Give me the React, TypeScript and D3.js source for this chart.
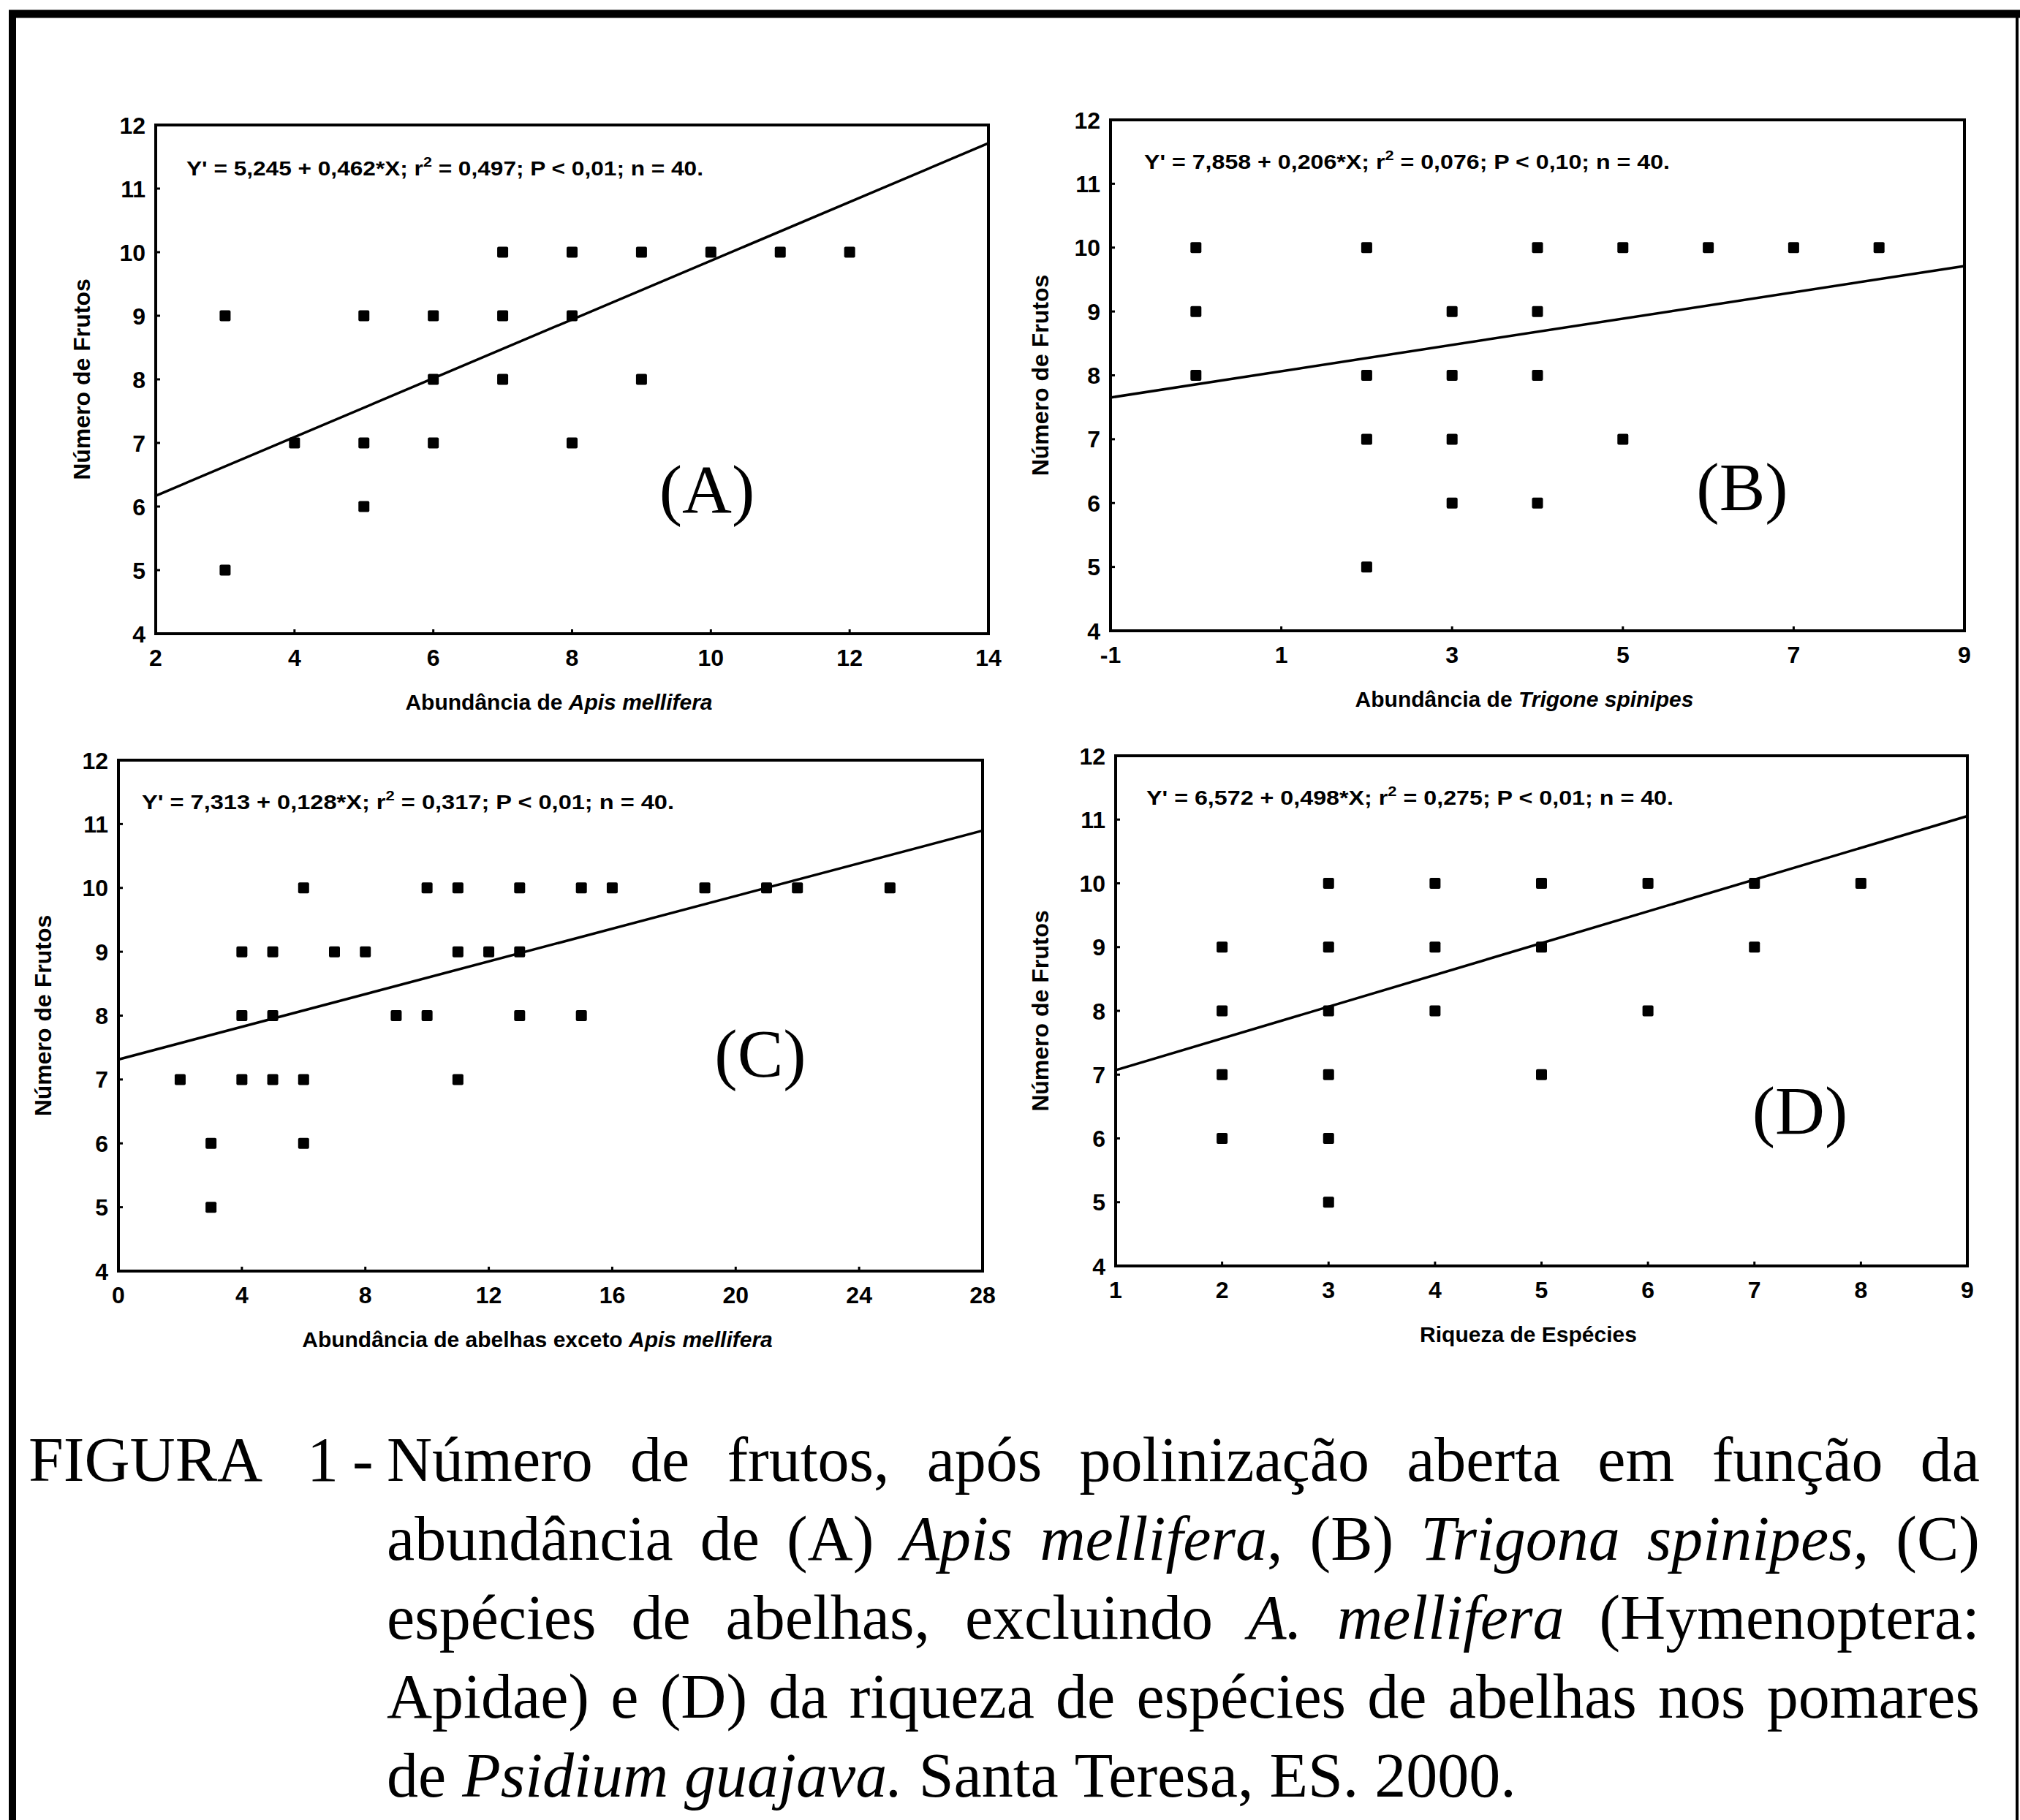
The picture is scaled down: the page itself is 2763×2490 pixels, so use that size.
import React, { useEffect, useRef } from 'react'
import * as d3 from 'd3'

const W = 2763
const H = 2490

const yTicks = [4, 5, 6, 7, 8, 9, 10, 11, 12]
const yDomain = [4, 12]

// (A) abundancia de Apis mellifera
const xA = [3, 3, 4, 5, 5, 5, 6, 6, 6, 7, 7, 7, 8, 8, 8, 9, 9, 10, 11, 12]
const yA = [9, 5, 7, 9, 7, 6, 9, 8, 7, 10, 9, 8, 10, 9, 7, 10, 8, 10, 10, 10]
const xTicksA = [2, 4, 6, 8, 10, 12, 14]
const fitA = [5.245, 0.462]
const statsA = ['0,497', '0,01', '40']

// (B) abundancia de Trigona spinipes
const xB = [0, 0, 0, 2, 2, 2, 2, 3, 3, 3, 3, 4, 4, 4, 4, 5, 5, 6, 7, 8]
const yB = [10, 9, 8, 10, 8, 7, 5, 9, 8, 7, 6, 10, 9, 8, 6, 10, 7, 10, 10, 10]
const xTicksB = [-1, 1, 3, 5, 7, 9]
const fitB = [7.858, 0.206]
const statsB = ['0,076', '0,10', '40']

// (C) abelhas exceto Apis mellifera
const xC = [2, 3, 3, 4, 4, 4, 5, 5, 5, 6, 6, 6, 7, 8, 9, 10, 10, 11, 11, 11, 12, 13, 13, 13, 15, 15, 16, 19, 21, 22, 25]
const yC = [7, 6, 5, 9, 8, 7, 9, 8, 7, 10, 7, 6, 9, 9, 8, 10, 8, 10, 9, 7, 9, 10, 9, 8, 10, 8, 10, 10, 10, 10, 10]
const xTicksC = [0, 4, 8, 12, 16, 20, 24, 28]
const fitC = [7.313, 0.128]
const statsC = ['0,317', '0,01', '40']

// (D) riqueza de especies
const xD = [2, 2, 2, 2, 3, 3, 3, 3, 3, 3, 4, 4, 4, 5, 5, 5, 6, 6, 7, 7, 8]
const yD = [9, 8, 7, 6, 10, 9, 8, 7, 6, 5, 10, 9, 8, 10, 9, 7, 10, 8, 10, 9, 10]
const xTicksD = [1, 2, 3, 4, 5, 6, 7, 8, 9]
const fitD = [6.572, 0.498]
const statsD = ['0,275', '0,01', '40']

const captionLines = [
  'Número de frutos, após polinização aberta em função da',
  'abundância de (A) _Apis mellifera_, (B) _Trigona spinipes_, (C)',
  'espécies de abelhas, excluindo _A. mellifera_ (Hymenoptera:',
  'Apidae) e (D) da riqueza de espécies de abelhas nos pomares',
  'de _Psidium guajava._ Santa Teresa, ES. 2000.',
]

const sans = '"Liberation Sans", Arial, sans-serif'
const serif = '"Liberation Serif", "Times New Roman", serif'

const panels = [
  { id: 'A', xs: xA, ys: yA, ticks: xTicksA, fit: fitA, stats: statsA,
    title: ['Abundância de ', 'Apis mellifera'],
    box: { left: 213, right: 1352, top: 171, bottom: 867 },
    eq: [255, 240, 707], label: [967, 701], yTitleX: 123 },
  { id: 'B', xs: xB, ys: yB, ticks: xTicksB, fit: fitB, stats: statsB,
    title: ['Abundância de ', 'Trigone spinipes'],
    box: { left: 1519, right: 2687, top: 164, bottom: 863 },
    eq: [1565, 231, 719], label: [2383, 698], yTitleX: 1434 },
  { id: 'C', xs: xC, ys: yC, ticks: xTicksC, fit: fitC, stats: statsC,
    title: ['Abundância de abelhas exceto ', 'Apis mellifera'],
    box: { left: 162, right: 1344, top: 1040, bottom: 1739 },
    eq: [194, 1107, 728], label: [1040, 1473], yTitleX: 70 },
  { id: 'D', xs: xD, ys: yD, ticks: xTicksD, fit: fitD, stats: statsD,
    title: ['Riqueza de Espécies', ''],
    box: { left: 1526, right: 2691, top: 1034, bottom: 1732 },
    eq: [1568, 1101, 721], label: [2462, 1551], yTitleX: 1434 },
]

const fmt = (v: number) => d3.format('.3f')(v).replace('.', ',')

const Panel = ({ p }: any) => {
  const { left, right, top, bottom } = p.box
  const x = d3.scaleLinear().domain(d3.extent(p.ticks) as [number, number]).range([left, right])
  const y = d3.scaleLinear().domain(yDomain).range([bottom, top])
  const line = d3.line<number>().x(d => x(d)).y(d => y(p.fit[0] + p.fit[1] * d))
  const dom = x.domain()
  const sz = 15
  return (
    <g>
      <rect x={left} y={top} width={right - left} height={bottom - top} fill="none" stroke="#000" strokeWidth={4} />
      {yTicks.map(t => (
        <g key={'y' + t}>
          <line x1={left} x2={left + 6} y1={y(t)} y2={y(t)} stroke="#000" strokeWidth={3} />
          <text x={left - 14} y={y(t)} dy="0.36em" textAnchor="end" fontFamily={sans} fontWeight="bold" fontSize={32}>{t}</text>
        </g>
      ))}
      {p.ticks.map((t: number) => (
        <g key={'x' + t}>
          <line x1={x(t)} x2={x(t)} y1={bottom} y2={bottom - 6} stroke="#000" strokeWidth={3} />
          <text x={x(t)} y={bottom + 44} textAnchor="middle" fontFamily={sans} fontWeight="bold" fontSize={32}>{t}</text>
        </g>
      ))}
      <path d={line(dom) || ''} fill="none" stroke="#000" strokeWidth={3.5} />
      {p.xs.map((d: number, i: number) => (
        <rect key={i} x={x(d) - sz / 2} y={y(p.ys[i]) - sz / 2} width={sz} height={sz} rx={2} fill="#000" />
      ))}
      <text x={p.eq[0]} y={p.eq[1]} textLength={p.eq[2]} lengthAdjust="spacingAndGlyphs"
        fontFamily={sans} fontWeight="bold" fontSize={28}>
        {`Y' = ${fmt(p.fit[0])} + ${fmt(p.fit[1])}*X; r`}
        <tspan dy={-12} fontSize={19}>2</tspan>
        <tspan dy={12}>{` = ${p.stats[0]}; P < ${p.stats[1]}; n = ${p.stats[2]}.`}</tspan>
      </text>
      <text x={p.label[0]} y={p.label[1]} textAnchor="middle" fontFamily={serif} fontSize={94}>({p.id})</text>
      <text x={(left + right) / 2 - 18} y={bottom + 104} textAnchor="middle" fontFamily={sans} fontWeight="bold" fontSize={30}>
        {p.title[0]}<tspan fontStyle="italic">{p.title[1]}</tspan>
      </text>
      <text transform={`translate(${p.yTitleX},${(top + bottom) / 2}) rotate(-90)`} textAnchor="middle"
        fontFamily={sans} fontWeight="bold" fontSize={32}>Número de Frutos</text>
    </g>
  )
}

const parseLine = (s: string) => {
  let it = false
  return s.split(' ').map(w => w.split('_').map((t, k) => {
    if (k > 0) it = !it
    return { t, it }
  }).filter(q => q.t.length > 0))
}

const capX0 = 529
const capX1 = 2708
const capBase = [2026, 2134, 2242, 2350, 2458]

export default function App() {
  const capRef = useRef<SVGGElement>(null)

  useEffect(() => {
    if (!capRef.current) return
    d3.select(capRef.current).selectAll<SVGGElement, unknown>('g.cline').each(function (_, li) {
      const words = d3.select(this).selectAll<SVGTextElement, unknown>('text').nodes()
      const widths = words.map(n => n.getComputedTextLength())
      const total = d3.sum(widths)
      const justify = li < captionLines.length - 1
      const gap = justify ? (capX1 - capX0 - total) / (words.length - 1) : 22
      let cx = capX0
      words.forEach((n, i) => {
        n.setAttribute('x', String(cx))
        cx += widths[i] + gap
      })
    })
  }, [])

  return (
    <svg width={W} height={H} viewBox={`0 0 ${W} ${H}`}
      style={{ display: 'block', position: 'absolute', left: 0, top: 0, background: '#fff' }}>
      <rect width={W} height={H} fill="#fff" />
      <line x1={17} x2={17} y1={14} y2={H} stroke="#000" strokeWidth={10} />
      <line x1={12} x2={W} y1={19} y2={19} stroke="#000" strokeWidth={11} />
      <line x1={2759} x2={2759} y1={14} y2={H} stroke="#000" strokeWidth={4} />
      {panels.map(p => <Panel key={p.id} p={p} />)}
      <g ref={capRef} fontFamily={serif} fontSize={86}>
        <text x={39} y={capBase[0]}>FIGURA</text>
        <text x={420} y={capBase[0]}>1</text>
        <text x={482} y={capBase[0]}>-</text>
        {captionLines.map((l, li) => (
          <g className="cline" key={li}>
            {parseLine(l).map((w, wi) => (
              <text key={wi} x={capX0} y={capBase[li]}>
                {w.map((q, qi) => <tspan key={qi} fontStyle={q.it ? 'italic' : 'normal'}>{q.t}</tspan>)}
              </text>
            ))}
          </g>
        ))}
      </g>
    </svg>
  )
}
